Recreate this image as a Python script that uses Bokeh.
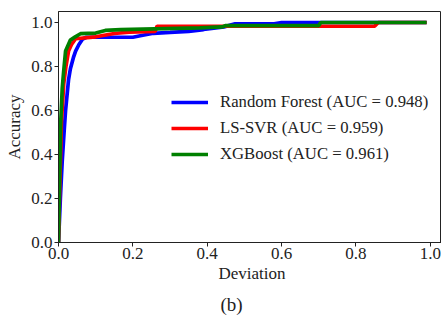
from bokeh.plotting import figure
from bokeh.models import Range1d, FixedTicker, Legend, LegendItem, Title, NumeralTickFormatter
from bokeh.embed import file_html
from bokeh.resources import INLINE

# Data
rf_x = [0.0, 0.005, 0.010, 0.015, 0.019, 0.027, 0.032, 0.040, 0.046, 0.055, 0.065, 0.075,
        0.200, 0.220, 0.255, 0.300, 0.350, 0.390, 0.445, 0.475, 0.580, 0.600, 0.990]
rf_y = [0.0, 0.20, 0.37, 0.50, 0.60, 0.74, 0.79, 0.84, 0.87, 0.90, 0.925, 0.933,
        0.933, 0.940, 0.951, 0.955, 0.960, 0.968, 0.980, 0.994, 0.994, 1.000, 1.000]

svr_x = [0.0, 0.004, 0.008, 0.014, 0.020, 0.027, 0.035, 0.046, 0.100, 0.150, 0.190,
         0.260, 0.265, 0.850, 0.860, 0.990]
svr_y = [0.0, 0.30, 0.55, 0.72, 0.80, 0.87, 0.90, 0.926, 0.935, 0.950, 0.956,
         0.960, 0.983, 0.983, 1.000, 1.000]

xgb_x = [0.0, 0.003, 0.006, 0.010, 0.014, 0.019, 0.032, 0.045, 0.059, 0.100, 0.126,
         0.167, 0.380, 0.440, 0.450, 0.700, 0.705, 0.990]
xgb_y = [0.0, 0.30, 0.55, 0.70, 0.78, 0.87, 0.92, 0.935, 0.949, 0.952, 0.964,
         0.968, 0.976, 0.980, 0.986, 0.986, 1.000, 1.000]

labels = ["Random Forest (AUC = 0.948)", "LS-SVR (AUC = 0.959)", "XGBoost (AUC = 0.961)"]
colors = ["#0000ff", "#ff0000", "#008000"]
y_ticks = [0.0, 0.2, 0.4, 0.6, 0.8, 1.0]
x_ticks = [0.0, 0.2, 0.4, 0.6, 0.8, 1.0]

FONT = "'Liberation Serif', 'Times New Roman', serif"
TXT = "#222222"

p = figure(width=441, height=324, output_backend="svg", toolbar_location=None,
           x_range=Range1d(0, 1.03), y_range=Range1d(0, 1.05),
           min_border_left=58, min_border_top=11, min_border_right=0, min_border_bottom=82)
p.grid.visible = False
p.outline_line_color = "#222222"
p.outline_line_width = 1
p.background_fill_color = "white"
p.border_fill_color = "white"

r1 = p.line(rf_x, rf_y, color=colors[0], line_width=3.7)
r2 = p.line(svr_x, svr_y, color=colors[1], line_width=3.7)
r3 = p.line(xgb_x, xgb_y, color=colors[2], line_width=3.7)

for ax in (p.xaxis[0], p.yaxis[0]):
    ax.major_tick_out = 4
    ax.major_tick_in = 0
    ax.minor_tick_out = 0
    ax.minor_tick_in = 0
    ax.axis_line_color = "#222222"
    ax.major_tick_line_color = "#222222"
    ax.major_label_text_font = FONT
    ax.major_label_text_font_size = "17px"
    ax.major_label_text_color = TXT
    ax.axis_label_text_font = FONT
    ax.axis_label_text_font_size = "17px"
    ax.axis_label_text_font_style = "normal"
    ax.axis_label_text_color = TXT
    ax.formatter = NumeralTickFormatter(format="0.0")

p.xaxis[0].ticker = FixedTicker(ticks=x_ticks)
p.yaxis[0].ticker = FixedTicker(ticks=y_ticks)
p.xaxis[0].major_label_standoff = 1
p.yaxis[0].major_label_standoff = 2
p.yaxis[0].axis_label = "Accuracy"
p.yaxis[0].axis_label_standoff = 4

t1 = Title(text="Deviation", align="left", offset=160, text_font=FONT,
           text_font_size="17px", text_font_style="normal", text_color=TXT,
           standoff=0)
p.add_layout(t1, "below")
t2 = Title(text="(b)", align="left", offset=162, text_font=FONT,
           text_font_size="19px", text_font_style="normal", text_color=TXT,
           standoff=19)
p.add_layout(t2, "below")

legend = Legend(items=[LegendItem(label=labels[0], renderers=[r1]),
                       LegendItem(label=labels[1], renderers=[r2]),
                       LegendItem(label=labels[2], renderers=[r3])],
                location=(113, 78), border_line_alpha=0, background_fill_alpha=0,
                padding=0, margin=0, spacing=6, glyph_width=37, glyph_height=20,
                label_height=20, label_standoff=12, label_text_font=FONT,
                label_text_font_size="16.7px", label_text_color=TXT)
p.add_layout(legend)

open("out.html", "w").write(file_html(p, INLINE))
